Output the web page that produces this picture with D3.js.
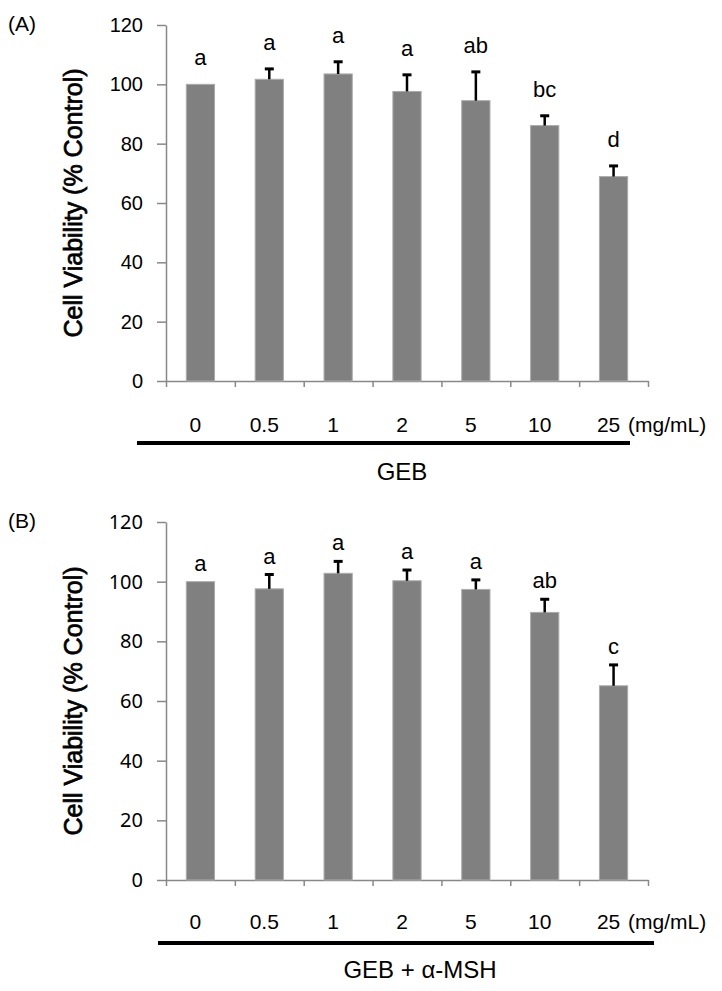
<!DOCTYPE html>
<html>
<head>
<meta charset="utf-8">
<script src="https://cdn.jsdelivr.net/npm/d3@7"></script>
<style>
  body { margin: 0; background: #fff; }
  text { font-family: "Liberation Sans", Arial, sans-serif; fill: #000; }
</style>
</head>
<body>
<div id="chart"></div>
<script>
// doses on the x axis
let doses = ["0", "0.5", "1", "2", "5", "10", "25"];
let yTicks = [0, 20, 40, 60, 80, 100, 120];

// panel A: GEB alone
let gebMean = [100, 101.7, 103.5, 97.6, 94.5, 86.1, 68.9];
let gebSd = [0, 3.5, 4.1, 5.6, 9.7, 3.3, 3.6];
let gebLetters = ["a", "a", "a", "a", "ab", "bc", "d"];

// panel B: GEB + alpha-MSH
let mshMean = [100, 97.6, 102.8, 100.3, 97.4, 89.7, 65.1];
let mshSd = [0, 4.8, 4.0, 3.6, 3.2, 4.4, 7.0];
let mshLetters = ["a", "a", "a", "a", "a", "ab", "c"];

let svg = d3.select("#chart")
  .append("svg")
  .attr("width", 722)
  .attr("height", 991);

let axisColor = "#888888";
let barFill = "#808080";

function drawPanel(cfg) {
  let g = svg.append("g");

  let y = d3.scaleLinear().domain([0, 120]).range([cfg.bottom, cfg.top]);
  let x = d3.scaleBand()
    .domain(doses)
    .range([166, 648])
    .paddingInner(0.59)
    .paddingOuter(0.295);
  let xEdge = d3.scaleLinear().domain([0, doses.length]).range([166, 648]);

  // panel letter
  g.append("text")
    .attr("x", 8)
    .attr("y", cfg.top + 6)
    .style("font-size", "21px")
    .text(cfg.tag);

  // y axis
  let yAxis = g.append("g")
    .attr("transform", "translate(166,0)")
    .call(d3.axisLeft(y).tickValues(yTicks).tickSize(9).tickSizeOuter(0).tickPadding(14));
  yAxis.select(".domain").attr("stroke", axisColor).attr("stroke-width", 1.5);
  yAxis.selectAll(".tick line").attr("stroke", axisColor).attr("stroke-width", 1.5);
  yAxis.selectAll(".tick text")
    .attr("fill", "#000")
    .style("font-family", cfg.tickFont)
    .style("font-size", "20px");

  // x axis (ticks between categories)
  let xAxis = g.append("g")
    .attr("transform", "translate(0," + cfg.bottom + ")")
    .call(d3.axisBottom(xEdge).tickValues(d3.range(doses.length + 1)).tickSize(6).tickSizeOuter(0).tickFormat(""));
  xAxis.select(".domain").attr("stroke", axisColor).attr("stroke-width", 1.5);
  xAxis.selectAll(".tick line").attr("stroke", axisColor).attr("stroke-width", 1.5);

  // bars
  g.selectAll(".bar")
    .data(cfg.mean)
    .enter()
    .append("rect")
    .attr("x", function (d, i) { return x(doses[i]); })
    .attr("y", function (d) { return y(d); })
    .attr("width", x.bandwidth())
    .attr("height", function (d) { return y(0) - y(d); })
    .attr("fill", barFill)
    .attr("stroke", "#ababab")
    .attr("stroke-width", 1);

  // upper error whiskers
  for (let i = 0; i < doses.length; i++) {
    if (cfg.sd[i] <= 0) continue;
    let cx = x(doses[i]) + x.bandwidth() / 2;
    g.append("line")
      .attr("x1", cx).attr("x2", cx)
      .attr("y1", y(cfg.mean[i])).attr("y2", y(cfg.mean[i] + cfg.sd[i]))
      .attr("stroke", "#000").attr("stroke-width", 2.5);
    g.append("line")
      .attr("x1", cx - 4.5).attr("x2", cx + 4.5)
      .attr("y1", y(cfg.mean[i] + cfg.sd[i])).attr("y2", y(cfg.mean[i] + cfg.sd[i]))
      .attr("stroke", "#000").attr("stroke-width", 3);
  }

  // significance letters
  g.selectAll(".sig")
    .data(cfg.letters)
    .enter()
    .append("text")
    .attr("x", function (d, i) { return x(doses[i]) + x.bandwidth() / 2; })
    .attr("y", function (d, i) { return y(cfg.mean[i] + cfg.sd[i]) - cfg.letterGap; })
    .attr("text-anchor", "middle")
    .style("font-size", "22px")
    .text(function (d) { return d; });

  // dose labels
  g.selectAll(".dose")
    .data(doses)
    .enter()
    .append("text")
    .attr("x", function (d) { return x(d) + x.bandwidth() / 2 - 5; })
    .attr("y", cfg.doseBase)
    .attr("text-anchor", "middle")
    .style("font-size", "21px")
    .text(function (d) { return d; });
  g.append("text")
    .attr("x", 628)
    .attr("y", cfg.doseBase)
    .style("font-size", "21px")
    .text("(mg/mL)");

  // bracket line and treatment name
  g.append("line")
    .attr("x1", cfg.lineX[0]).attr("x2", cfg.lineX[1])
    .attr("y1", cfg.lineY).attr("y2", cfg.lineY)
    .attr("stroke", "#000").attr("stroke-width", 4);
  g.append("text")
    .attr("x", cfg.nameX)
    .attr("y", cfg.nameBase)
    .attr("text-anchor", "middle")
    .style("font-size", "24px")
    .text(cfg.name);

  // y title
  g.append("text")
    .attr("transform", "translate(82," + (cfg.top + cfg.bottom) / 2 + ") rotate(-90)")
    .attr("text-anchor", "middle")
    .style("font-size", "25px")
    .style("stroke", "#000")
    .style("stroke-width", 0.7)
    .text("Cell Viability (% Control)");
}

drawPanel({
  tag: "(A)", top: 25, bottom: 381,
  mean: gebMean, sd: gebSd, letters: gebLetters, letterGap: 19,
  tickFont: "'Liberation Sans', Arial, sans-serif",
  doseBase: 432, lineX: [137, 630], lineY: 443,
  name: "GEB", nameX: 402, nameBase: 480
});

drawPanel({
  tag: "(B)", top: 522, bottom: 880,
  mean: mshMean, sd: mshSd, letters: mshLetters, letterGap: 11,
  tickFont: "'Noto Sans', sans-serif",
  doseBase: 929, lineX: [158, 654], lineY: 943,
  name: "GEB + α-MSH", nameX: 420, nameBase: 978
});
</script>
</body>
</html>
